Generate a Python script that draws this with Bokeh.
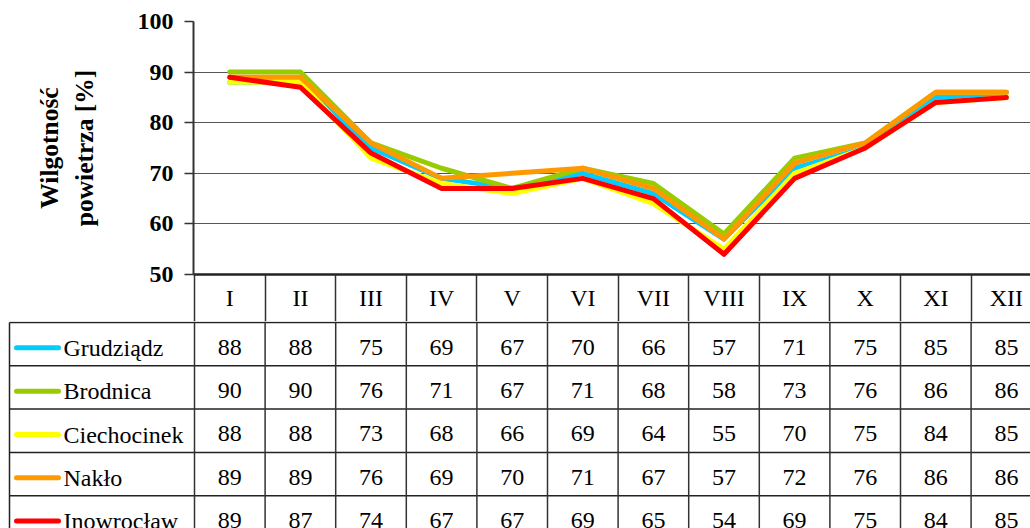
from bokeh.plotting import figure
from bokeh.models import Range1d, FixedTicker
from bokeh.layouts import column
from bokeh.embed import file_html
from bokeh.resources import INLINE
from bokeh.core.properties import value

# ---- data ----
months = ["I", "II", "III", "IV", "V", "VI", "VII", "VIII", "IX", "X", "XI", "XII"]
stations = ["Grudziądz", "Brodnica", "Ciechocinek", "Nakło", "Inowrocław"]
grudziadz = [88, 88, 75, 69, 67, 70, 66, 57, 71, 75, 85, 85]
brodnica = [90, 90, 76, 71, 67, 71, 68, 58, 73, 76, 86, 86]
ciechocinek = [88, 88, 73, 68, 66, 69, 64, 55, 70, 75, 84, 85]
naklo = [89, 89, 76, 69, 70, 71, 67, 57, 72, 76, 86, 86]
inowroclaw = [89, 87, 74, 67, 67, 69, 65, 54, 69, 75, 84, 85]
y_ticks = [50, 60, 70, 80, 90, 100]
y_title = "Wilgotność\npowietrza [%]"
colors = ["#00CCFF", "#99CC00", "#FFFF00", "#FF9900", "#FF0000"]
series = [grudziadz, brodnica, ciechocinek, naklo, inowroclaw]

FONT = "Liberation Serif"
PX = 70.6          # pixels per month column
W = 1030
LEFT = 194         # x of the value axis
TOPB = 21          # y of the 100 % line
FRAME_H = 253      # height of 50..100 %
HDR_H = 47         # header row of the table (month names) under the plot
TOP_H = TOPB + FRAME_H + HDR_H
BOT_H = 528 - TOP_H
ROW = 43.3
HDR_TOP = TOP_H + 1   # y of the first table rule

n = len(months)
ns = len(stations)
xc = [i + 0.5 for i in range(n)]


def px_to_x(px):
    return (px - LEFT) / PX


def py_to_row(py):
    return (py - HDR_TOP) / ROW


# ---- chart ----
top = figure(width=W, height=TOP_H, output_backend="svg", toolbar_location=None,
             x_range=Range1d(-1 / PX, (W - LEFT) / PX), y_range=Range1d(y_ticks[0], y_ticks[-1]),
             min_border_left=LEFT - 1, min_border_right=0, min_border_top=TOPB,
             min_border_bottom=HDR_H)
top.frame_align = False
top.outline_line_color = None
top.background_fill_color = "white"
top.xgrid.visible = False
top.ygrid.ticker = FixedTicker(ticks=y_ticks[1:])
top.ygrid.grid_line_color = "#555555"
top.ygrid.grid_line_width = 1

ya = top.yaxis[0]
ya.ticker = FixedTicker(ticks=y_ticks, minor_ticks=[])
ya.axis_line_color = "#333333"
ya.axis_line_width = 2
ya.major_tick_line_color = "#333333"
ya.major_tick_line_width = 1.5
ya.major_tick_out = 9
ya.major_tick_in = 0
ya.minor_tick_line_color = None
ya.major_label_text_font = FONT
ya.major_label_text_font_style = "bold"
ya.major_label_text_font_size = "24px"
ya.major_label_text_color = "black"
ya.major_label_standoff = 11
ya.axis_label = y_title
ya.axis_label_text_font = FONT
ya.axis_label_text_font_style = "bold"
ya.axis_label_text_font_size = "25.5px"
ya.axis_label_text_color = "black"
ya.axis_label_standoff = 36

# category axis = header row of the data table
xa = top.xaxis[0]
xa.ticker = FixedTicker(ticks=xc, minor_ticks=list(range(n + 1)))
xa.major_label_overrides = {x: m for x, m in zip(xc, months)}
xa.axis_line_color = "#222222"
xa.axis_line_width = 2.5
xa.major_tick_line_color = None
xa.major_tick_out = 0
xa.major_tick_in = 0
xa.minor_tick_line_color = "#333333"
xa.minor_tick_line_width = 1.5
xa.minor_tick_out = HDR_H
xa.minor_tick_in = 0
xa.major_label_text_font = FONT
xa.major_label_text_font_size = "24px"
xa.major_label_text_color = "black"
xa.major_label_standoff = -37

for vals, c in zip(series, colors):
    top.line(x=xc, y=vals, line_color=c, line_width=5,
             line_join="round", line_cap="round")

# ---- data table ----
left_edge = px_to_x(9)
top_row = py_to_row(TOP_H)
bot = figure(width=W, height=BOT_H, output_backend="svg", toolbar_location=None,
             x_range=Range1d(-LEFT / PX, (W - LEFT) / PX),
             y_range=Range1d(py_to_row(528), top_row),
             x_axis_location=None, y_axis_location=None,
             min_border_left=0, min_border_right=0, min_border_top=0, min_border_bottom=0)
bot.frame_align = False
bot.outline_line_color = None
bot.grid.visible = False

# horizontal rules
bot.segment(x0=[left_edge] * (ns + 1), x1=[n] * (ns + 1),
            y0=list(range(ns + 1)), y1=list(range(ns + 1)),
            line_color="#222222", line_width=1.5)
# vertical rules
bot.segment(x0=[left_edge], x1=[left_edge], y0=[0], y1=[ns],
            line_color="#222222", line_width=1.5)
bot.segment(x0=list(range(n + 1)), x1=list(range(n + 1)),
            y0=[top_row] * (n + 1), y1=[ns] * (n + 1),
            line_color="#333333", line_width=1.5)

# legend keys and names
ky = [i + 0.5 + 0.085 for i in range(ns)]
bot.segment(x0=[px_to_x(16)] * ns, x1=[px_to_x(58)] * ns, y0=ky, y1=ky,
            line_color=colors, line_width=5, line_cap="round")
bot.text(x=[px_to_x(63)] * ns, y=[i + 0.5 + 0.09 for i in range(ns)], text=stations,
         text_font=value(FONT), text_font_size="24px", text_align="left",
         text_baseline="middle", text_color="black")

# values
cx, cy, ct = [], [], []
for i, vals in enumerate(series):
    for k, v in enumerate(vals):
        cx.append(k + 0.5)
        cy.append(i + 0.5 + 0.07)
        ct.append(str(v))
bot.text(x=cx, y=cy, text=ct, text_font=value(FONT), text_font_size="24px",
         text_align="center", text_baseline="middle", text_color="black")

layout = column(top, bot, spacing=0)
open("out.html", "w").write(file_html(layout, INLINE))
